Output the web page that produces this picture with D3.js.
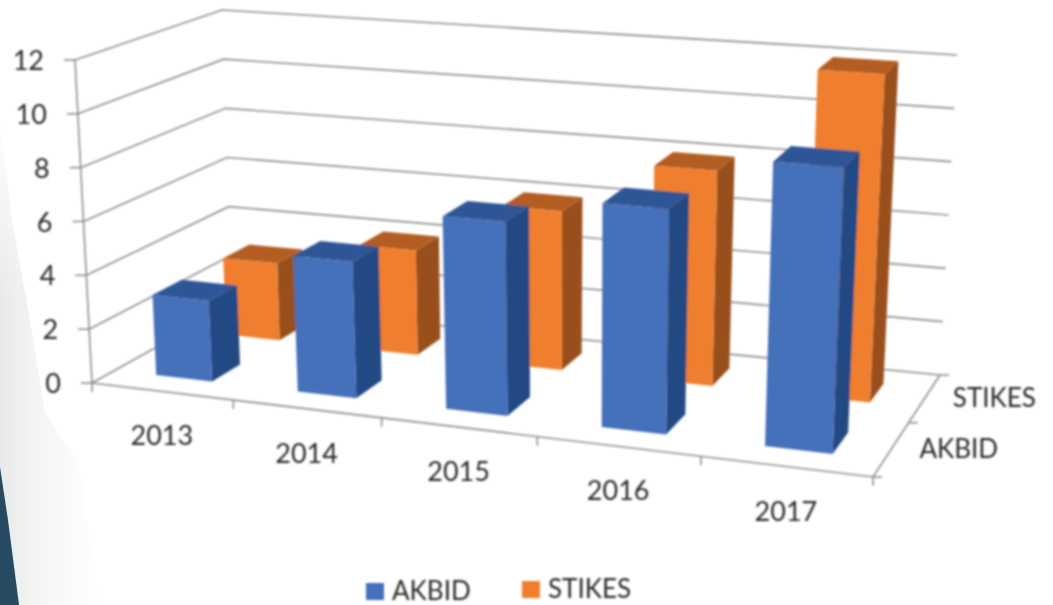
<!DOCTYPE html>
<html>
<head>
<meta charset="utf-8">
<style>
  html, body { margin: 0; padding: 0; background: #fff; }
  svg { display: block; }
  text { font-family: Lato, "Open Sans", sans-serif; fill: #2b2b2b; }
</style>
</head>
<body>
<svg width="1053" height="605"></svg>
<script src="https://cdnjs.cloudflare.com/ajax/libs/d3/7.8.5/d3.min.js"></script>
<script>
const width = 1053, height = 605;

const years = ["2013", "2014", "2015", "2016", "2017"];
const seriesNames = ["AKBID", "STIKES"];
const akbid = [3, 5, 7, 8, 10];
const stikes = [3, 4, 6, 8, 12];
const yTicks = [0, 2, 4, 6, 8, 10, 12];

const colors = {
    AKBID: { front: "#4570ba", side: "#234a84", top: "#2e5697" },
    STIKES: { front: "#ef7f2d", side: "#984f1e", top: "#b45d22" }
};

const svg = d3.select("svg");
const defs = svg.append("defs");

// slightly soft, the reference is an upscaled screenshot
defs.append("filter").attr("id", "soft")
    .append("feGaussianBlur").attr("stdDeviation", 0.8);

const fade = defs.append("linearGradient").attr("id", "fade")
    .attr("gradientUnits", "userSpaceOnUse")
    .attr("x1", 0).attr("x2", 100).attr("y1", 0).attr("y2", 0);
fade.append("stop").attr("offset", "0%").attr("stop-color", "#e8eaea");
fade.append("stop").attr("offset", "30%").attr("stop-color", "#f1f2f2");
fade.append("stop").attr("offset", "60%").attr("stop-color", "#f9f9f9");
fade.append("stop").attr("offset", "100%").attr("stop-color", "#ffffff");

const topFade = defs.append("linearGradient").attr("id", "topFade")
    .attr("x1", 0).attr("x2", 0).attr("y1", 0).attr("y2", 1);
topFade.append("stop").attr("offset", "0%").attr("stop-color", "#fff").attr("stop-opacity", 1);
topFade.append("stop").attr("offset", "100%").attr("stop-color", "#fff").attr("stop-opacity", 0);

// Slide background in the lower left corner
svg.append("path")
    .attr("d", "M0,120 L12,220 L30,320 L45,412 L78,462 L100,605 L0,605 Z")
    .attr("fill", "url(#fade)");
svg.append("rect")
    .attr("x", 0).attr("y", 110).attr("width", 40).attr("height", 190)
    .attr("fill", "url(#topFade)");
svg.append("path")
    .attr("d", "M0,467 L8,520 L19,605 L0,605 Z")
    .attr("fill", "#264a62");

// Maps the unit square on a screen quad (p0 = 0,0  p1 = 1,0  p2 = 1,1  p3 = 0,1)
function quadMap(p0, p1, p2, p3) {
    const dx1 = p1[0] - p2[0], dx2 = p3[0] - p2[0], sx = p0[0] - p1[0] + p2[0] - p3[0];
    const dy1 = p1[1] - p2[1], dy2 = p3[1] - p2[1], sy = p0[1] - p1[1] + p2[1] - p3[1];
    const den = dx1 * dy2 - dx2 * dy1;
    const g = (sx * dy2 - dx2 * sy) / den;
    const h = (dx1 * sy - sx * dy1) / den;
    const a = p1[0] - p0[0] + g * p1[0], b = p3[0] - p0[0] + h * p3[0];
    const d = p1[1] - p0[1] + g * p1[1], e = p3[1] - p0[1] + h * p3[1];
    return (u, w) => {
        const n = g * u + h * w + 1;
        return [(a * u + b * w + p0[0]) / n, (d * u + e * w + p0[1]) / n];
    };
}

// The box of the 3D chart: floor and ceiling as seen on screen
const floorMap = quadMap([92, 383], [873, 477], [940, 375], [232, 305]);
const ceilMap = quadMap([75, 60], [889, 127], [957, 55], [222, 10]);

const xBand = d3.scaleBand().domain(years).range([0, 1]).paddingInner(0.6).paddingOuter(0.3);
const depthBand = d3.scaleBand().domain(seriesNames).range([0, 1]).paddingInner(0.6).paddingOuter(0.3);
const yScale = d3.scaleLinear().domain([0, 12]).range([0, 1]);

// excel's perspective is milder than the corners alone give, so push u along the box
const bend = (u, k) => u + k * u * (1 - u);

function project(u, w, value) {
    const a = floorMap(bend(u, 0.045), w), b = ceilMap(bend(u, 0.11), w), t = yScale(value);
    return [a[0] + (b[0] - a[0]) * t, a[1] + (b[1] - a[1]) * t];
}

const line = d3.line();
const axisColor = "#8f8f8f";
const axisWidth = 1.6;
const chart = svg.append("g").attr("filter", "url(#soft)");

// Gridlines over left wall and back wall
chart.selectAll(".grid")
    .data(yTicks)
    .enter().append("path")
    .attr("class", "grid")
    .attr("d", d => line([project(0, 0, d), project(0, 1, d), project(1, 1, d)]))
    .attr("fill", "none")
    .attr("stroke", axisColor)
    .attr("stroke-width", axisWidth);

// Axis lines
chart.append("path")
    .attr("d", line([project(0, 0, 0), project(0, 0, 12)]))
    .attr("stroke", axisColor).attr("stroke-width", axisWidth);
chart.append("path")
    .attr("d", line([project(0, 0, 0), project(1, 0, 0), project(1, 1, 0)]))
    .attr("fill", "none").attr("stroke", axisColor).attr("stroke-width", axisWidth);

// Tick marks
chart.selectAll(".ytick")
    .data(yTicks)
    .enter().append("path")
    .attr("class", "ytick")
    .attr("d", d => {
        const p = project(0, 0, d);
        return line([[p[0] - 11, p[1]], p]);
    })
    .attr("stroke", axisColor).attr("stroke-width", axisWidth);

chart.selectAll(".xtick")
    .data(d3.range(years.length + 1))
    .enter().append("path")
    .attr("class", "xtick")
    .attr("d", d => {
        const p = project(d / years.length, 0, 0);
        return line([p, [p[0], p[1] + 9]]);
    })
    .attr("stroke", axisColor).attr("stroke-width", axisWidth);

chart.selectAll(".ztick")
    .data(d3.range(seriesNames.length + 1))
    .enter().append("path")
    .attr("class", "ztick")
    .attr("d", d => {
        const p = project(1, d / seriesNames.length, 0);
        return line([p, [p[0] + 9, p[1]]]);
    })
    .attr("stroke", axisColor).attr("stroke-width", axisWidth);

// One face of a bar from its corners in chart space
function barFaces(u0, u1, w0, w1, v) {
    return {
        side: [project(u1, w0, 0), project(u1, w1, 0), project(u1, w1, v), project(u1, w0, v)],
        top: [project(u0, w0, v), project(u1, w0, v), project(u1, w1, v), project(u0, w1, v)],
        front: [project(u0, w0, 0), project(u1, w0, 0), project(u1, w0, v), project(u0, w0, v)]
    };
}

const rows = [
    { name: "STIKES", values: stikes },
    { name: "AKBID", values: akbid }
];

rows.forEach(row => {
    const w0 = depthBand(row.name), w1 = w0 + depthBand.bandwidth();
    const g = chart.append("g").attr("class", "row-" + row.name);
    years.forEach((year, i) => {
        const u0 = xBand(year), u1 = u0 + xBand.bandwidth();
        const faces = barFaces(u0, u1, w0, w1, row.values[i]);
        ["side", "top", "front"].forEach(face => {
            g.append("path")
                .attr("d", line(faces[face]) + "Z")
                .attr("fill", colors[row.name][face]);
        });
    });
});

// Text
const labels = svg.append("g").attr("filter", "url(#soft)");

labels.selectAll(".ylabel")
    .data(yTicks)
    .enter().append("text")
    .attr("class", "ylabel")
    .attr("x", d => project(0, 0, d)[0] - 31)
    .attr("y", d => project(0, 0, d)[1] + 10)
    .attr("text-anchor", "end")
    .attr("font-size", 27)
    .text(d => d);

labels.selectAll(".xlabel")
    .data(years)
    .enter().append("text")
    .attr("class", "xlabel")
    .attr("x", d => project(xBand(d) + xBand.bandwidth() / 2, 0, 0)[0])
    .attr("y", d => project(xBand(d) + xBand.bandwidth() / 2, 0, 0)[1] + 54)
    .attr("text-anchor", "middle")
    .attr("font-size", 27)
    .text(d => d);

labels.selectAll(".zlabel")
    .data(seriesNames)
    .enter().append("text")
    .attr("class", "zlabel")
    .attr("x", d => project(1, depthBand(d) + depthBand.bandwidth() / 2, 0)[0] + 28)
    .attr("y", d => project(1, depthBand(d) + depthBand.bandwidth() / 2, 0)[1] + 9)
    .attr("font-size", 26)
    .text(d => d);

// Legend
const legendX = d3.scaleOrdinal().domain(seriesNames).range([366, 522]);
const legendY = d3.scaleOrdinal().domain(seriesNames).range([583, 581]);

const legend = svg.append("g").attr("filter", "url(#soft)")
    .selectAll("g")
    .data(seriesNames)
    .enter().append("g")
    .attr("transform", d => `translate(${legendX(d)},${legendY(d)})`);

legend.append("rect")
    .attr("width", 18)
    .attr("height", 17)
    .attr("fill", d => colors[d].front);

legend.append("text")
    .attr("x", 26)
    .attr("y", 17)
    .attr("font-size", 26)
    .text(d => d);
</script>
</body>
</html>
